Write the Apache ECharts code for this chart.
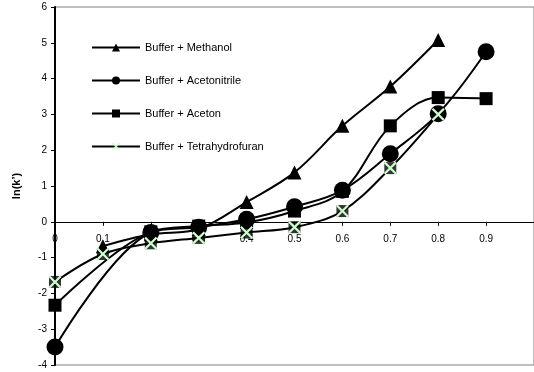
<!DOCTYPE html>
<html>
<head>
<meta charset="utf-8">
<script src="https://cdn.jsdelivr.net/npm/echarts@6/dist/echarts.min.js"></script>
<style>html,body{margin:0;padding:0;background:#fff}#c{width:534px;height:372px}</style>
</head>
<body>
<div id="c"></div>
<script>
const xs = [0, 0.1, 0.2, 0.3, 0.4, 0.5, 0.6, 0.7, 0.8, 0.9];
const methanol = [null, -0.68, -0.35, -0.2, 0.55, 1.38, 2.68, 3.78, 5.08, null];
const acetonitrile = [-3.5, null, -0.3, -0.15, 0.07, 0.42, 0.88, 1.9, 3.02, 4.75];
const aceton = [-2.33, null, -0.28, -0.12, -0.02, 0.3, 0.85, 2.68, 3.47, 3.44];
const thf = [-1.68, -0.9, -0.6, -0.45, -0.3, -0.15, 0.3, 1.5, 3.0, null];
const names = ['Buffer + Methanol', 'Buffer + Acetonitrile', 'Buffer + Aceton', 'Buffer + Tetrahydrofuran'];
const yAxisName = 'ln(k’)';
const yMin = -4, yMax = 6;

const pairs = arr => xs.map((x, i) => [x, arr[i]]).filter(p => p[1] !== null);
const xPath = 'path://M0,1.2 L1.2,0 L5,3.8 L8.8,0 L10,1.2 L6.2,5 L10,8.8 L8.8,10 L5,6.2 L1.2,10 L0,8.8 L3.8,5 Z';

const gridTop = 7, gridBottom = 7, H = 372;
const plotH = H - gridTop - gridBottom;
const zeroOffset = -plotH * (0 - yMin) / (yMax - yMin);

const chart = echarts.init(document.getElementById('c'));
const base = {
  type: 'line', smooth: 0.35, connectNulls: true,
  lineStyle: { color: '#000', width: 2 },
  itemStyle: { color: '#000' },
  emphasis: { disabled: true }
};
chart.setOption({
  animation: false,
  textStyle: { fontFamily: 'Liberation Sans, Arial, sans-serif' },
  grid: { left: 55, right: -4, top: gridTop, bottom: gridBottom, show: true, borderColor: '#808080', borderWidth: 1 },
  legend: {
    orient: 'vertical', left: 86, top: 37, itemWidth: 48, itemHeight: 10, itemGap: 22,
    textStyle: { fontSize: 11, color: '#000', fontFamily: 'Liberation Sans, Arial, sans-serif' },
    data: names
  },
  xAxis: {
    type: 'value', min: 0, max: 1, interval: 0.1, position: 'bottom', offset: zeroOffset,
    axisLine: { onZero: false, lineStyle: { color: '#000', width: 1 } },
    axisTick: { show: true, length: 4, lineStyle: { color: '#000' } },
    axisLabel: { fontSize: 10, color: '#000', margin: 12, formatter: v => (Math.round(v * 10) / 10).toString(), showMaxLabel: false },
    splitLine: { show: false }
  },
  yAxis: {
    type: 'value', min: yMin, max: yMax, interval: 1,
    name: yAxisName, nameLocation: 'middle', nameGap: 33,
    nameTextStyle: { fontSize: 11, fontWeight: 'bold', color: '#000' },
    axisLine: { show: true, lineStyle: { color: '#000', width: 2 } },
    axisTick: { show: true, length: 4, lineStyle: { color: '#000' } },
    axisLabel: { fontSize: 10, color: '#000', margin: 8 },
    splitLine: { show: false }
  },
  series: [
    Object.assign({}, base, { name: names[0], data: pairs(methanol), symbol: 'triangle', symbolSize: 14, z: 3 }),
    Object.assign({}, base, { name: names[1], data: pairs(acetonitrile), symbol: 'circle', symbolSize: 17, z: 3 }),
    Object.assign({}, base, { name: names[2], data: pairs(aceton), symbol: 'rect', symbolSize: 13, z: 3 }),
    { type: 'scatter', name: 'thf-bg', data: pairs(thf), symbol: 'rect', symbolSize: 12, itemStyle: { color: '#000' }, z: 4, emphasis: { disabled: true } },
    Object.assign({}, base, { name: names[3], data: pairs(thf), symbol: xPath, symbolSize: 13, itemStyle: { color: '#ccffcc' }, z: 5 })
  ]
});
</script>
</body>
</html>
